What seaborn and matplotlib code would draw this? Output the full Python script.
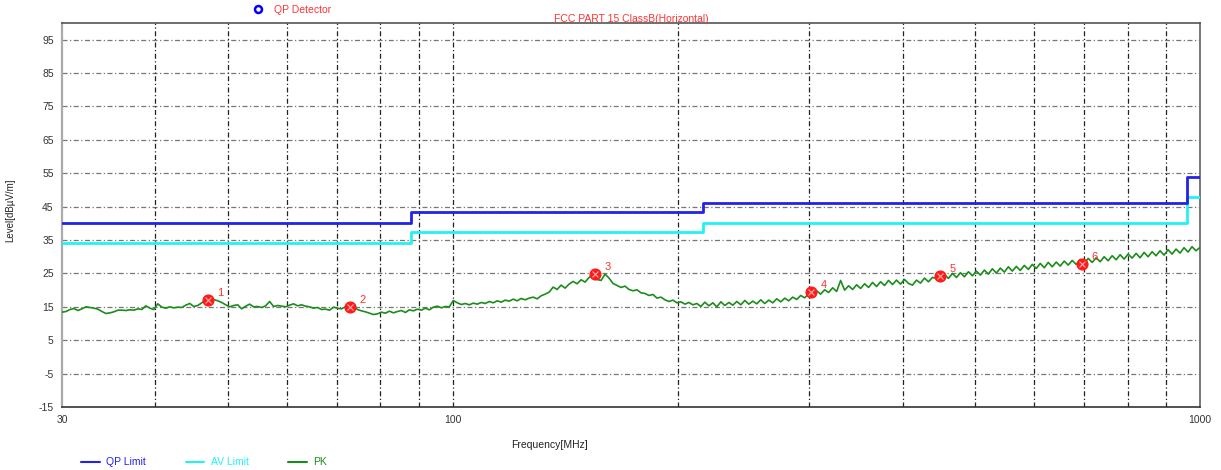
import numpy as np
import pandas as pd
import matplotlib
matplotlib.use("Agg")
import matplotlib.pyplot as plt
from matplotlib.lines import Line2D
import seaborn as sns

# ---------------- data ----------------
qp_edges = [30, 88, 216, 960, 1000]      # MHz, limit band edges
qp_level = [40.0, 43.5, 46.0, 54.0]      # dBuV/m
av_level = [34.0, 37.5, 40.0, 48.0]

pk_level = [
    13.4, 13.6, 14.2, 14.5, 13.9, 14.4, 15.0, 14.8, 14.6, 14.3,
    13.6, 13.0, 13.2, 13.5, 14.0, 14.0, 13.9, 14.1, 14.0, 14.4,
    14.2, 15.3, 14.6, 14.2, 15.9, 14.9, 14.6, 15.0, 14.7, 14.9,
    14.8, 15.5, 16.0, 15.1, 15.4, 16.2, 17.0, 16.9, 17.2, 16.8,
    16.3, 15.6, 15.0, 15.4, 15.6, 14.4, 15.2, 15.8, 15.0, 15.1,
    14.8, 15.3, 16.6, 15.1, 15.4, 15.2, 15.0, 15.5, 15.9, 15.3,
    15.6, 15.2, 15.0, 14.6, 14.8, 14.2, 14.3, 14.0, 14.9, 14.6,
    14.4, 15.0, 15.2, 14.9, 14.2, 13.8, 13.5, 13.1, 12.7, 12.9,
    13.4, 13.1, 13.7, 13.2, 13.6, 13.9, 13.3, 14.1, 13.8, 14.3,
    14.0, 14.6, 14.1, 14.9, 15.2, 14.7, 15.1, 15.0, 16.9, 16.2,
    15.7, 16.0, 15.6, 16.1, 15.8, 16.3, 16.0, 16.6, 16.2, 16.8,
    16.4, 17.0, 16.7, 17.3, 16.8, 17.5, 17.1, 17.6, 17.9, 17.4,
    18.3, 18.8, 19.4, 20.9, 20.2, 21.5, 20.6, 21.8, 22.6, 21.9,
    23.1, 22.4, 23.8, 24.6, 23.2, 22.9, 24.8, 23.6, 22.0, 21.4,
    20.8, 21.2, 20.2, 19.8, 20.1, 19.2, 19.0, 18.4, 18.7, 17.6,
    17.9, 17.1, 16.6, 17.0, 16.2, 16.5, 15.8, 16.3, 15.6, 16.0,
    15.1, 16.4, 15.3, 16.2, 15.0, 16.5, 15.4, 16.3, 15.5, 16.6,
    15.6, 16.9, 15.8, 16.7, 15.9, 17.1, 16.0, 17.0, 16.2, 17.4,
    16.5, 17.6, 16.8, 17.9, 17.2, 18.4, 17.7, 18.9, 18.6, 19.8,
    18.8, 20.1, 19.3, 20.7, 19.6, 22.9, 20.0, 21.3, 20.2, 21.6,
    20.5, 21.9, 20.8, 22.3, 21.1, 22.5, 21.4, 22.9, 21.7, 23.0,
    21.8, 23.2, 22.0, 21.5, 23.0, 22.1, 23.6, 22.5, 23.8, 23.5,
    23.2, 24.7, 23.5, 25.0, 23.8, 25.2, 24.0, 25.5, 24.3, 25.7,
    24.5, 26.0, 24.8, 26.4, 25.1, 26.6, 25.4, 27.0, 25.7, 27.1,
    25.9, 27.4, 26.2, 27.7, 26.5, 28.0, 26.7, 28.3, 27.0, 28.4,
    27.2, 28.7, 27.5, 28.9, 27.7, 29.2, 28.0, 29.5, 28.3, 29.7,
    28.5, 30.0, 28.8, 30.3, 29.1, 30.6, 29.3, 30.8, 29.6, 31.0,
    29.7, 31.3, 30.0, 31.5, 30.3, 31.8, 30.5, 32.1, 30.8, 32.3,
    31.1, 32.7, 31.4, 33.0, 31.8, 32.8,
]
pk_freq = np.geomspace(30, 1000, len(pk_level))  # sweep points, log spaced

marker_no = ["1", "2", "3", "4", "5", "6"]
marker_freq = [47.0, 72.9, 155.0, 301.6, 448.8, 695.0]
marker_level = [17.1, 15.0, 24.7, 19.5, 24.1, 27.7]

y_ticks = [-15, -5, 5, 15, 25, 35, 45, 55, 65, 75, 85, 95]
x_grid = [40, 50, 60, 70, 80, 90, 100, 200, 300, 400, 500, 600, 700, 800, 900]
x_ticks = [30, 100, 1000]

# ---------------- colours ----------------
QP_COL = "#2222e8"
AV_COL = "#22f2f2"
PK_COL = "#1c8c1c"
RED = "#ff3333"

sns.set_theme(style="white")
plt.rcParams["font.family"] = ["Liberation Sans", "DejaVu Sans"]

fig = plt.figure(figsize=(12.21, 4.70), dpi=100)
ax = fig.add_axes([62 / 1221, 1 - 407 / 470, 1138 / 1221, 384 / 470])

# limit lines as steps
qp_df = pd.DataFrame({"f": qp_edges, "lvl": qp_level + [qp_level[-1]]})
av_df = pd.DataFrame({"f": qp_edges, "lvl": av_level + [av_level[-1]]})
pk_df = pd.DataFrame({"f": pk_freq, "lvl": pk_level})

sns.lineplot(data=pk_df, x="f", y="lvl", ax=ax, color=PK_COL, lw=1.2,
             estimator=None, sort=False, zorder=3)
sns.lineplot(data=av_df, x="f", y="lvl", ax=ax, color=AV_COL, lw=2,
             drawstyle="steps-post", estimator=None, zorder=4)
sns.lineplot(data=qp_df, x="f", y="lvl", ax=ax, color=QP_COL, lw=2,
             drawstyle="steps-post", estimator=None, zorder=4)

# markers
ax.scatter(marker_freq, marker_level, s=60, color="#ff1a1a", marker="o",
           zorder=6, edgecolors="#ff1a1a")
ax.scatter(marker_freq, marker_level, s=18, color="#ffb0b0", marker="x",
           linewidths=0.8, zorder=7)
for n, f, l in zip(marker_no, marker_freq, marker_level):
    ax.annotate(n, (f, l), xytext=(7, 3), textcoords="offset points",
                color=RED, fontsize=8, zorder=8)

ax.set_xscale("log")
ax.set_xlim(30, 1000)
ax.set_ylim(-15, 100)

ax.set_yticks(y_ticks)
ax.set_yticklabels([str(v) for v in y_ticks], fontsize=7.5, color="#333333")
ax.set_xticks(x_grid, minor=True)
ax.set_xticks(x_ticks)
ax.set_xticklabels([str(v) for v in x_ticks], fontsize=7.5, color="#333333")
ax.xaxis.set_minor_formatter(plt.NullFormatter())
ax.tick_params(axis="both", which="both", length=0, pad=6)

dashdot = (0, (4, 2, 1, 2))
for v in y_ticks[1:]:
    ax.axhline(v, color="#777777", lw=0.9, ls=dashdot, zorder=1)
for v in x_grid:
    ax.axvline(v, color="#222222", lw=0.9, ls=dashdot, zorder=1)

for side, col, w in [("left", "#aaaaaa", 1.6), ("bottom", "#333333", 1.2),
                     ("top", "#555555", 1.2), ("right", "#777777", 1.4)]:
    ax.spines[side].set_visible(True)
    ax.spines[side].set_color(col)
    ax.spines[side].set_linewidth(w)

ax.set_title("FCC PART 15 ClassB(Horizontal)", color=RED, fontsize=7.5, pad=1)
ax.set_xlabel("Frequency[MHz]", fontsize=7.5, color="#222222")
ax.set_ylabel("Level[dB\u00b5V/m]", fontsize=7, color="#222222")
ax.xaxis.set_label_coords(0.428, -0.086)
ax.yaxis.set_label_coords(-0.041, 0.513)

# top detector legend
det = fig.legend(handles=[Line2D([], [], marker="o", mfc="none", mec="blue",
                                 mew=1.8, ms=5, ls="none")],
                 labels=["QP Detector"], loc="upper left",
                 bbox_to_anchor=(238 / 1221, 1.01), frameon=False,
                 fontsize=7.5, handletextpad=0.6)
det.get_texts()[0].set_color(RED)

# bottom trace legend
handles = [Line2D([], [], color=QP_COL, lw=1.5),
           Line2D([], [], color=AV_COL, lw=1.5),
           Line2D([], [], color=PK_COL, lw=1.5)]
leg = fig.legend(handles=handles, labels=["QP Limit", "AV Limit", "PK"],
                 loc="lower left", bbox_to_anchor=(72 / 1221, -0.014), ncol=3,
                 frameon=False, fontsize=7.5, handlelength=1.8,
                 columnspacing=3.8, handletextpad=0.6)
for t, c in zip(leg.get_texts(), [QP_COL, AV_COL, PK_COL]):
    t.set_color(c)

fig.savefig("out.png", dpi=100)
